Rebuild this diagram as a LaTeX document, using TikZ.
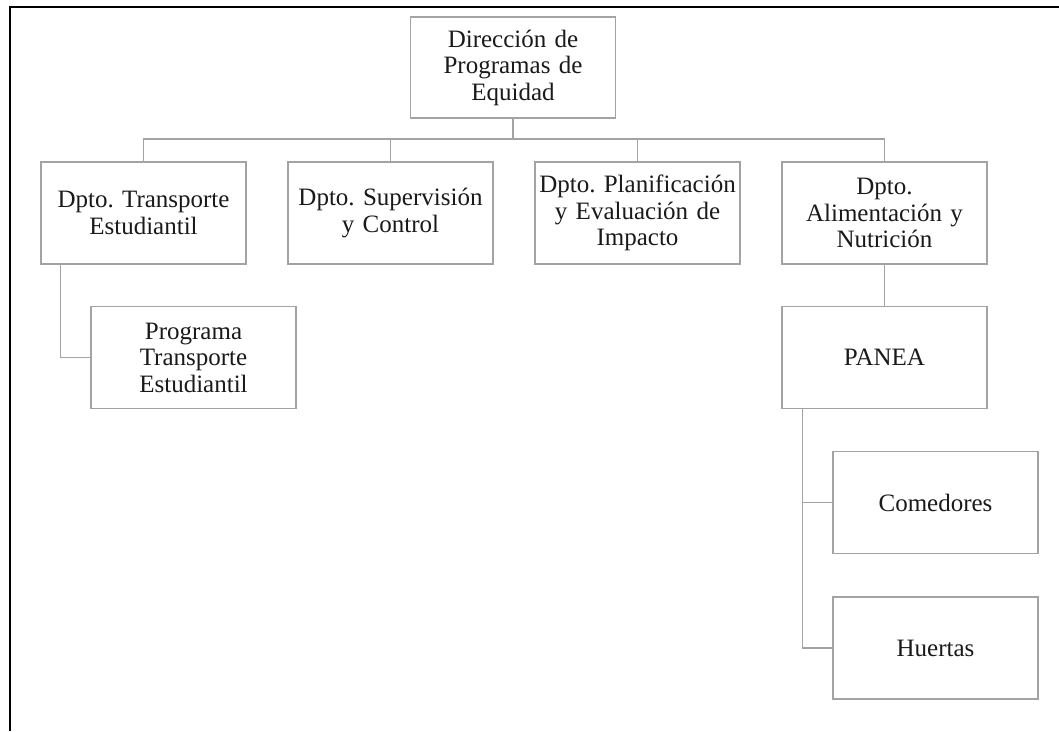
\documentclass[tikz,border=0pt]{standalone}
\usepackage{fontspec}
\setmainfont{Liberation Serif}
\usepackage{tikz}
\usetikzlibrary{positioning}
\definecolor{frame}{HTML}{000000}
\definecolor{boxline}{HTML}{A3A3A3}
\definecolor{ink}{HTML}{1A1A1A}
\frenchspacing

\begin{document}
\begin{tikzpicture}[x=1pt,y=-1pt,
  unit/.style={draw=boxline,line width=1.2pt,fill=white,minimum width=205pt,minimum height=102pt,text width=201pt,inner sep=2pt,align=center,text=ink,font=\fontsize{25}{26.5}\selectfont},
  link/.style={draw=boxline,line width=1.2pt}]
  \useasboundingbox (0,0) rectangle (1059,731);
  \draw[frame,line width=2.4pt] (10,731) -- (10,7) -- (1059,7);
  \node[unit,minimum width=204pt,minimum height=101pt] (dir) at (513,67.5) {Dirección de\\Programas de\\Equidad};
  \node[unit] (dtrans) at (143.5,213) {Dpto. Transporte\\Estudiantil};
  \node[unit,right=40.8pt of dtrans] (dsup) {Dpto. Supervisión\\y Control};
  \node[unit,right=40.8pt of dsup] (dplan) {Dpto. Planificación\\y Evaluación de\\Impacto};
  \node[unit,right=40.8pt of dplan] (dalim) {Dpto.\\Alimentación y\\Nutrición};
  \node[unit] (prog) at (193.5,357.5) {Programa\\Transporte\\Estudiantil};
  \node[unit,below=41pt of dalim] (panea) {PANEA};
  \node[unit] (come) at (935.5,502.5) {Comedores};
  \node[unit] (huer) at (935.5,648) {Huertas};
  \coordinate (bus) at (513,139);
  \draw[link] (dir.south) -- (bus);
  \draw[link] (dtrans.north) |- (bus) -| (dalim.north);
  \draw[link] (dsup.north) -- (dsup.north |- bus);
  \draw[link] (dplan.north) -- (dplan.north |- bus);
  \draw[link] ([xshift=20pt]dtrans.south west) |- (prog.west);
  \draw[link] (dalim.south) -- (panea.north);
  \draw[link] ([xshift=21pt]panea.south west) |- (come.west);
  \draw[link] ([xshift=21pt]panea.south west) |- (huer.west);
\end{tikzpicture}
\end{document}
